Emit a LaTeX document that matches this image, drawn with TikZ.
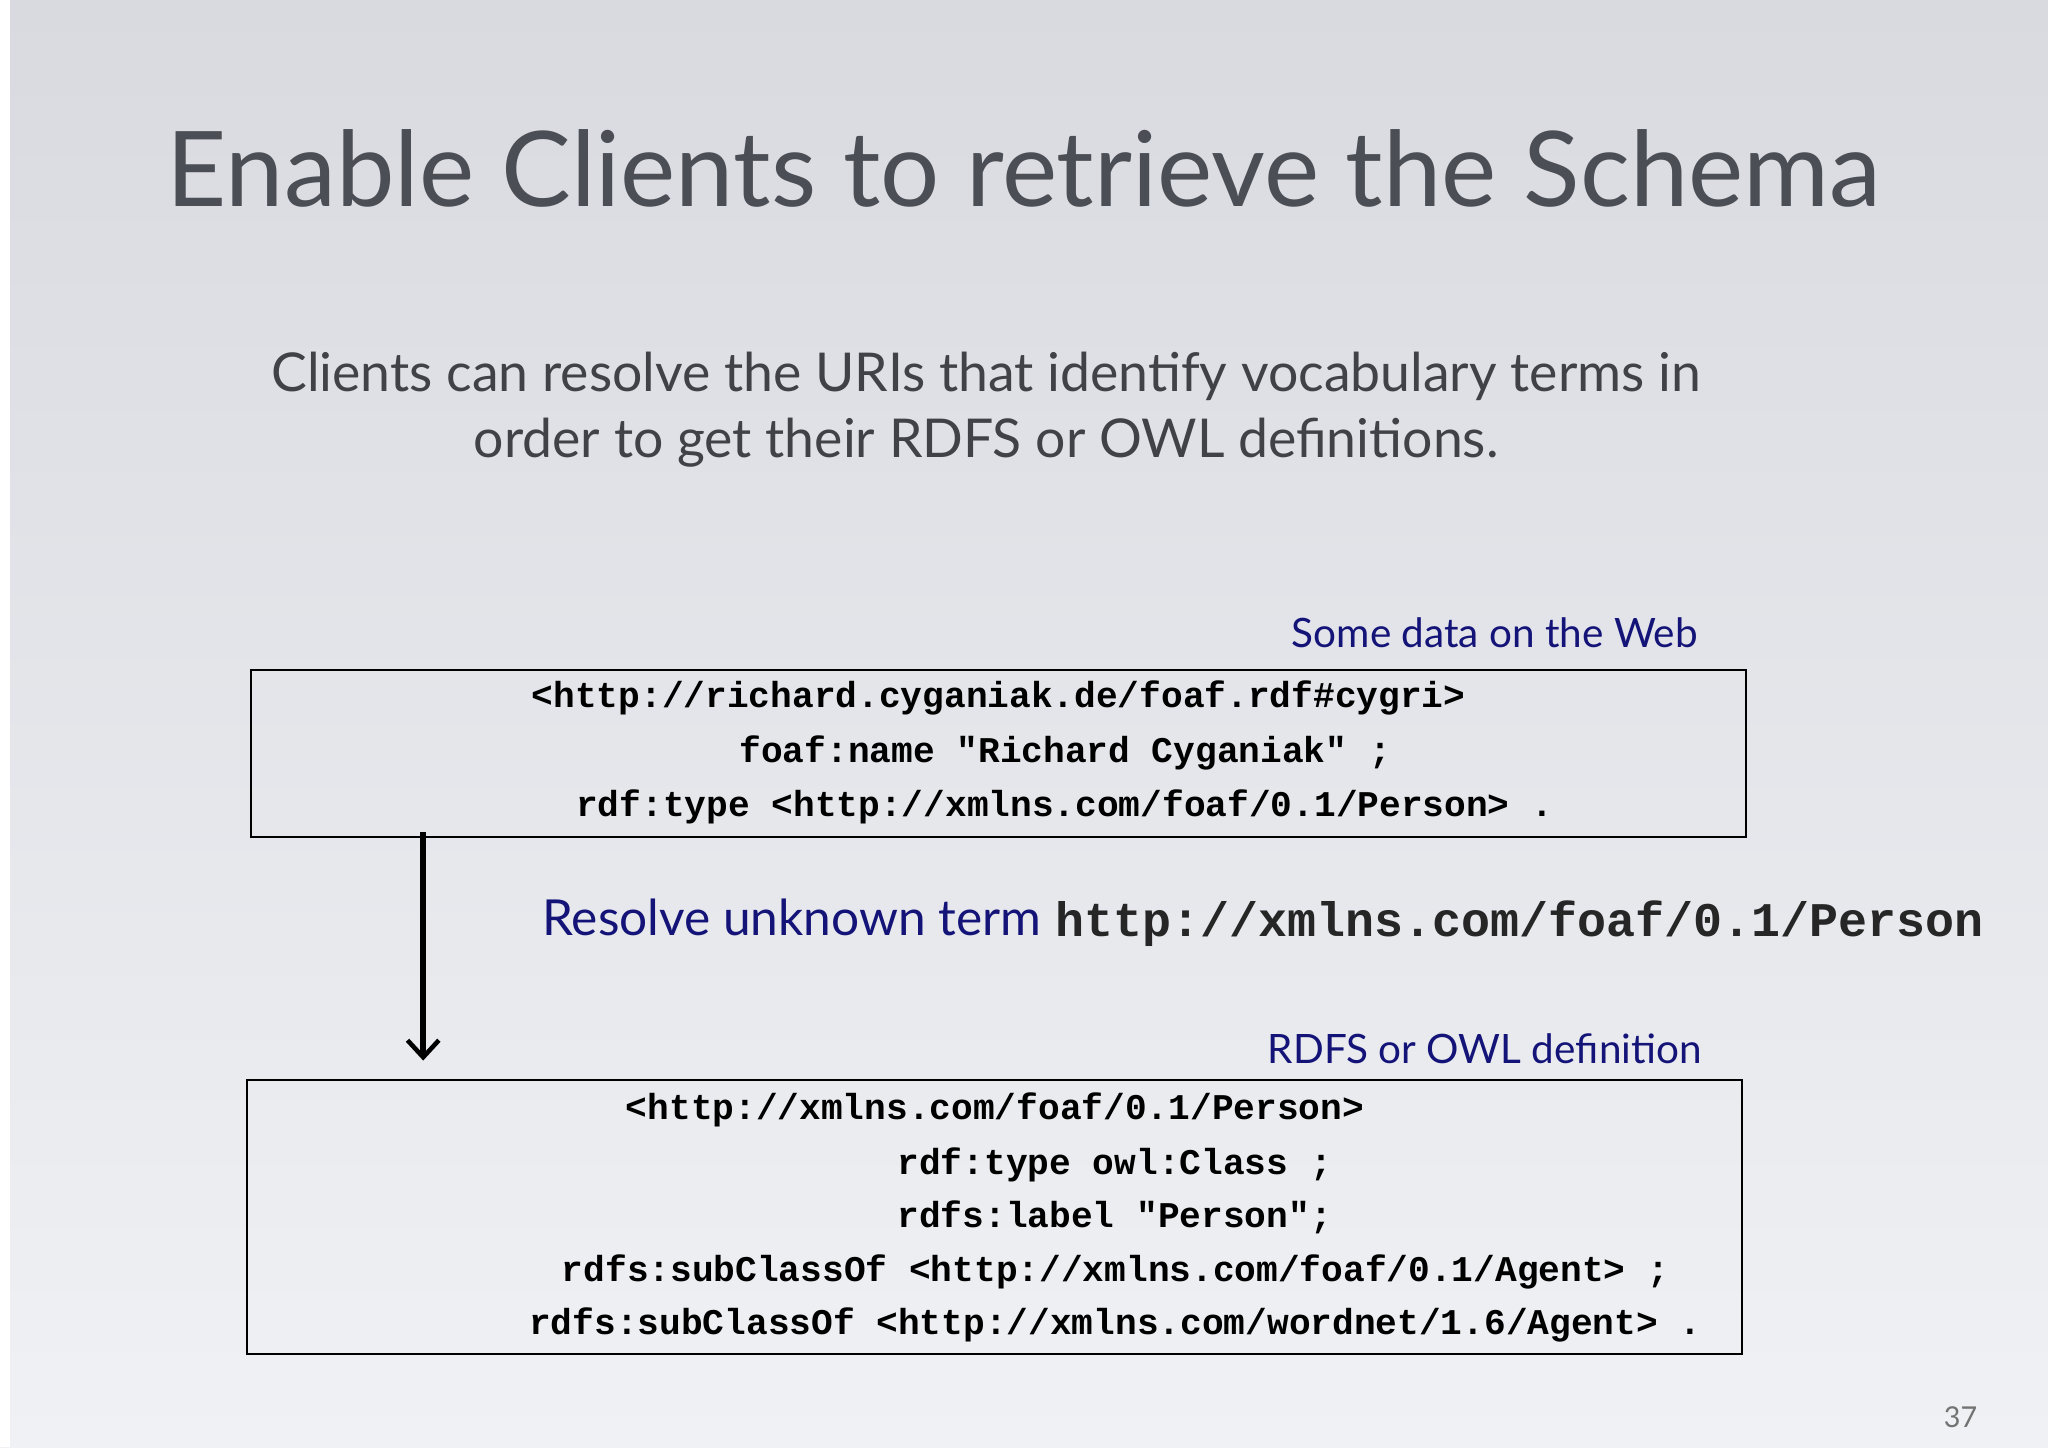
\documentclass[tikz,border=0pt]{standalone}
\usepackage{fontspec}
\setmainfont{Lato}
\setmonofont{Liberation Mono}
\usetikzlibrary{arrows.meta}
\definecolor{navy}{RGB}{20,20,120}
\definecolor{titlegray}{RGB}{75,78,84}
\definecolor{bgtop}{RGB}{216,218,224}
\definecolor{bgbot}{RGB}{240,241,244}
\tikzset{
  code/.style={anchor=base west,inner sep=0pt,font=\ttfamily\bfseries\fontsize{27.7}{30}\selectfont,text=black},
  lbl/.style={anchor=base east,inner sep=0pt,font=\fontsize{31}{34}\selectfont,text=navy},
  box/.style={draw=black,line width=1.5pt}
}
\begin{document}
\begin{tikzpicture}[x=1pt,y=-1pt]
\shade[top color=bgtop,bottom color=bgbot] (0,0) rectangle (1568,1108);
\fill[white] (0,0) rectangle (8,1108);
\useasboundingbox (0,0) rectangle (1568,1108);
\node[anchor=base,inner sep=0pt,text=titlegray,font=\fontsize{80}{90}\selectfont] (title) at (784,158) {Enable Clients to retrieve the Schema};
\node[anchor=base,inner sep=0pt,text=titlegray!85!black,font=\fontsize{41}{50}\selectfont,align=center] (sub) at (755,350) {Clients can resolve the URIs that identify vocabulary terms in\\order to get their RDFS or OWL definitions.};
\node[lbl] (l1) at (1300,496) {Some data on the Web};
\draw[box] (192,513) rectangle (1337,641);
\node[code] (a1) at (407,542) {<http://richard.cyganiak.de/foaf.rdf\#cygri>};
\node[code] (a2) at (566,584) {foaf:name "Richard Cyganiak" ;};
\node[code] (a3) at (441,625) {rdf:type <http://xmlns.com/foaf/0.1/Person> .};
\coordinate (s) at (324,637);
\coordinate (e) at (324,812);
\draw[line width=4.5pt,-{Straight Barb[length=13pt,width=24pt,line width=3.5pt]}] (s) -- (e);
\node[anchor=base west,inner sep=0pt,text=navy,font=\fontsize{38}{40}\selectfont] (res) at (415,716) {Resolve unknown term};
\node[anchor=base west,inner sep=0pt,font=\ttfamily\bfseries\fontsize{37}{40}\selectfont,text=black!85] (uri) at (808,717) {http://xmlns.com/foaf/0.1/Person};
\node[lbl] (l2) at (1303,814) {RDFS or OWL definition};
\draw[box] (189,827) rectangle (1334,1037);
\node[code] (b1) at (479,857) {<http://xmlns.com/foaf/0.1/Person>};
\node[code] (b2) at (687,899) {rdf:type owl:Class ;};
\node[code] (b3) at (687,940) {rdfs:label "Person";};
\node[code] (b4) at (430,981) {rdfs:subClassOf <http://xmlns.com/foaf/0.1/Agent> ;};
\node[code] (b5) at (405,1022) {rdfs:subClassOf <http://xmlns.com/wordnet/1.6/Agent> .};
\node[anchor=base east,inner sep=0pt,text=black!55,font=\fontsize{22}{24}\selectfont] (pg) at (1514,1093) {37};
\end{tikzpicture}
\end{document}
